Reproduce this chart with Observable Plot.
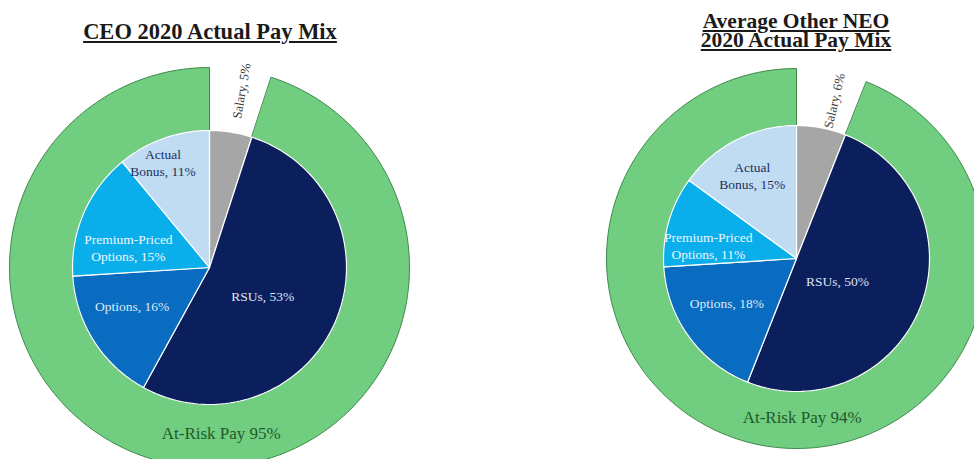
<!DOCTYPE html>
<html><head><meta charset="utf-8">
<script src="https://cdn.jsdelivr.net/npm/d3@7"></script>
<script src="https://cdn.jsdelivr.net/npm/@observablehq/plot@0.6"></script>
<style>
body{margin:0;background:#fff;}
#wrap{position:relative;width:974px;height:459px;overflow:hidden;}
#header{position:relative;height:52px;}
.title{position:absolute;font-family:"Liberation Serif","Times New Roman",serif;font-weight:bold;text-decoration:underline;text-align:center;color:#1a1a1a;white-space:pre;}
#chart svg{display:block;}
</style></head><body>
<div id="wrap">
  <div id="header"></div>
  <div id="chart"></div>
</div>
<script>
// ---------- data ----------
const categories = ["Salary", "RSUs", "Options", "Premium-Priced Options", "Actual Bonus"];
const labelNames = ["Salary", "RSUs", "Options", "Premium-Priced\nOptions", "Actual\nBonus"];
const ceoValues = [5, 53, 16, 15, 11];
const neoValues = [6, 50, 18, 11, 15];
const ringName = "At-Risk Pay";
const ceoAtRisk = 95;
const neoAtRisk = 94;
const titles = ["CEO 2020 Actual Pay Mix", "Average Other NEO\n2020 Actual Pay Mix"];

// ---------- layout / style ----------
const W = 974, H = 407, HEADER = 52;
const layouts = [
  {cx: 209, cy: 267 - HEADER, rIn: 137, rOut: 200, titleX: 210, titleTop: 21, titleSize: 22.5, titleLH: 22.5,
   ringAngle: 176,
   labelPos: {"Salary": [1.31, 1], "RSUs": [0.44, 4.4], "Options": [0.63, 6], "Premium-Priced Options": [0.61, -9.5], "Actual Bonus": [0.84, -4]}},
  {cx: 796, cy: 258 - HEADER, rIn: 133, rOut: 190, titleX: 796, titleTop: 12, titleSize: 21.5, titleLH: 19,
   ringAngle: 178,
   labelPos: {"Salary": [1.22, 2.4], "RSUs": [0.35, 6.4], "Options": [0.62, 3.5], "Premium-Priced Options": [0.67, -7.8], "Actual Bonus": [0.71, -1]}}
];
const colors = ["#a6a6a6", "#0b1f5c", "#0a6cc0", "#0aaeea", "#c0dcf2", "#71cd7f"];
const labelStyle = {
  "Salary": {fill: "#3a3a3a", fontSize: 13},
  "RSUs": {fill: "#dfe3f5", fontSize: 13.5},
  "Options": {fill: "#dde9f7", fontSize: 13.5},
  "Premium-Priced Options": {fill: "#eef7ff", fontSize: 13.5},
  "Actual Bonus": {fill: "#1c2f60", fontSize: 13.5}
};
const FONT = "Liberation Serif";

const charts = [
  {values: ceoValues, atRisk: ceoAtRisk, layout: layouts[0], title: titles[0]},
  {values: neoValues, atRisk: neoAtRisk, layout: layouts[1], title: titles[1]}
];

// titles
const header = document.getElementById("header");
charts.forEach(c => {
  const d = document.createElement("div");
  d.className = "title";
  d.textContent = c.title;
  d.style.fontSize = c.layout.titleSize + "px";
  d.style.lineHeight = c.layout.titleLH + "px";
  d.style.top = c.layout.titleTop + "px";
  d.style.left = (c.layout.titleX - 200) + "px";
  d.style.width = "400px";
  header.appendChild(d);
});

function arcPts(cx, cy, r, a0, a1) {
  const n = Math.max(2, Math.ceil(Math.abs(a1 - a0) / (Math.PI / 120)));
  return d3.range(n + 1).map(i => {
    const a = a0 + (a1 - a0) * i / n;
    return [cx + r * Math.sin(a), cy - r * Math.cos(a)];
  });
}

const sliceRows = [], ringRows = [], labels = [], ringLabels = [];
charts.forEach((c, ci) => {
  const {cx, cy, rIn, rOut, labelPos} = c.layout;
  const total = d3.sum(c.values);
  let acc = 0;
  c.values.forEach((v, i) => {
    const a0 = acc / total * 2 * Math.PI;
    acc += v;
    const a1 = acc / total * 2 * Math.PI;
    const id = ci + "-" + i;
    const pts = [[cx, cy], ...arcPts(cx, cy, rIn, a0, a1)];
    pts.forEach(([x, y]) => sliceRows.push({id, category: categories[i], x, y}));
    const [frac, shift] = labelPos[categories[i]];
    const am = (a0 + a1) / 2 + shift * Math.PI / 180;
    const rr = frac * rIn;
    labels.push({
      category: categories[i],
      x: cx + rr * Math.sin(am), y: cy - rr * Math.cos(am),
      text: labelNames[i] + ", " + v + "%",
      rotate: categories[i] === "Salary" ? am * 180 / Math.PI - 90 : 0
    });
  });
  const r0 = (total - c.atRisk) / total * 2 * Math.PI;
  const pts = [...arcPts(cx, cy, rOut, r0, 2 * Math.PI), ...arcPts(cx, cy, rIn, 2 * Math.PI, r0)];
  pts.forEach(([x, y]) => ringRows.push({id: "ring" + ci, category: ringName, x, y}));
  const ra = Math.PI * c.layout.ringAngle / 180, rm = (rIn + rOut) / 2;
  ringLabels.push({x: cx + rm * Math.sin(ra), y: cy - rm * Math.cos(ra) - 2, text: ringName + " " + c.atRisk + "%"});
});

const textMarks = categories.map(cat => Plot.text(labels.filter(d => d.category === cat), {
  x: "x", y: "y", text: "text", rotate: "rotate",
  fill: labelStyle[cat].fill, fontSize: labelStyle[cat].fontSize,
  fontFamily: FONT, lineHeight: 1.25, textAnchor: "middle", lineAnchor: "middle"
}));

const plot = Plot.plot({
  width: W, height: H, margin: 0,
  style: {fontFamily: FONT},
  x: {domain: [0, W], range: [0, W], axis: null},
  y: {domain: [0, H], range: [0, H], axis: null},
  color: {domain: [...categories, ringName], range: colors},
  marks: [
    Plot.line(ringRows, {x: "x", y: "y", z: "id", fill: "category", stroke: "#3f8a4c", strokeWidth: 1, curve: "linear-closed"}),
    Plot.line(sliceRows, {x: "x", y: "y", z: "id", fill: "category", stroke: "white", strokeWidth: 1.2, curve: "linear-closed"}),
    ...textMarks,
    Plot.text(ringLabels, {x: "x", y: "y", text: "text", fill: "#1f5a2b", fontSize: 17, fontFamily: FONT, textAnchor: "middle", lineAnchor: "middle"})
  ]
});
document.getElementById("chart").appendChild(plot);
</script>
</body></html>
